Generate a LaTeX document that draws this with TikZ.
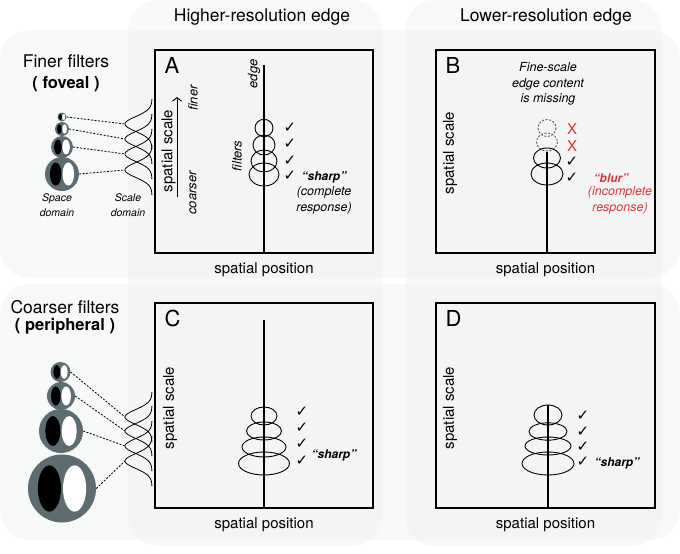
\documentclass[tikz,border=0pt]{standalone}
\usepackage{fontspec}
\setmainfont{TeX Gyre Heros}
\newfontfamily\symfont{DejaVu Sans}
\usetikzlibrary{positioning,arrows.meta}

\definecolor{bandgray}{RGB}{240,242,242}
\definecolor{ringgray}{RGB}{93,108,113}
\definecolor{blurred}{RGB}{222,52,58}

\tikzset{
    band/.style={fill=bandgray, fill opacity=0.55, rounded corners=30pt},
    panel/.style={draw, line width=1.3pt, inner sep=0pt},
    edgeline/.style={line width=1.8pt},
    filt/.style={line width=0.9pt},
    missing/.style={filt, draw=black!65, dash pattern=on 2pt off 1.6pt},
    rfield/.style={circle, fill=ringgray, inner sep=0pt},
    link/.style={line width=0.8pt, dash pattern=on 2pt off 1.5pt},
    bump/.style={line width=0.8pt},
    checkmk/.style={font=\symfont\fontsize{15}{15}\selectfont, inner sep=0pt},
    crossmk/.style={font=\fontsize{15}{15}\selectfont, text=blurred, inner sep=0pt},
    coltitle/.style={font=\fontsize{17.5}{20}\selectfont},
    rowtitle/.style={font=\fontsize{17.5}{20}\selectfont},
    axislbl/.style={font=\fontsize{15}{18}\selectfont},
    note/.style={font=\itshape\fontsize{12.5}{15.5}\selectfont, align=center},
    letter/.style={font=\fontsize{22}{22}\selectfont, inner sep=0pt},
    domlbl/.style={font=\itshape\fontsize{10.5}{15}\selectfont, align=center},
}

\begin{document}
\begin{tikzpicture}[x=1pt, y=-1pt]
    \useasboundingbox (0,0) rectangle (680,554);

    % Background bands (rows and columns)
    \fill[band] (0,30) rectangle (680,278);
    \fill[band] (0,284) rectangle (680,540);
    \fill[band] (128,0) rectangle (382,546);
    \fill[band] (405,0) rectangle (662,546);

    \node[coltitle] (hires) at (262,17) {Higher-resolution edge};
    \node[coltitle] (lores) at (546,17) {Lower-resolution edge};

    % Panels
    \node[panel, minimum width=218pt, minimum height=203pt] (A) at (264,151.5) {};
    \node[panel, minimum width=219pt, minimum height=203pt] (B) at (545.5,151.5) {};
    \node[panel, minimum width=218pt, minimum height=205pt] (C) at (264,405.5) {};
    \node[panel, minimum width=219pt, minimum height=205pt] (D) at (545.5,405.5) {};

    \foreach \p in {A,B,C,D}
    {
        \node[axislbl, below=5pt of \p] (pos\p) {spatial position};
        \node[letter, below right=8pt and 10pt of \p.north west] (lbl\p) {\p};
    }

    \node[axislbl, rotate=90] (scaleA) at (168.5,151) {spatial scale};
    \node[axislbl, rotate=90] (scaleB) at (450,153) {spatial scale};
    \node[axislbl, rotate=90] (scaleC) at (170,408) {spatial scale};
    \node[axislbl, rotate=90] (scaleD) at (450,408) {spatial scale};

    % Finer filters (foveal)
    \node[rowtitle] (finer) at (66,61) {Finer filters};
    \node[rowtitle, font=\bfseries\fontsize{16.5}{20}\selectfont] (foveal) at (66,84) {( foveal )};

    \foreach \n/\cx/\cy/\r in {f1/62/117/4.5, f2/62/129/7, f3/62/147/11, f4/62/174/17}
    {
        \node[rfield, minimum size={2*\r*1pt}] (\n) at (\cx,\cy) {};
        \fill[black] ({\cx-0.37*\r},\cy) ellipse ({0.34*\r} and {0.68*\r});
        \fill[white] ({\cx+0.37*\r},\cy) ellipse ({0.34*\r} and {0.68*\r});
    }

    \foreach \c [count=\i] in {124,139,154,170}
    {
        \coordinate (sf\i) at (125,\c);
        \draw[bump] plot[domain=-25:25, samples=41] ({152-27*exp(-(\x*\x)/110)},{\c+\x});
        \draw[link] (f\i.east) -- (sf\i);
    }

    \node[domlbl] (spacedomA) at (57,205) {Space\\domain};
    \node[domlbl] (scaledomA) at (128,205) {Scale\\domain};

    % Coarser filters (peripheral)
    \node[rowtitle] (coarser) at (65,307) {Coarser filters};
    \node[rowtitle, font=\bfseries\fontsize{16.5}{20}\selectfont] (peripheral) at (65,326) {( peripheral )};

    \foreach \n/\cx/\cy/\r in {c1/60.5/372/10, c2/61/396/14, c3/61/431/22, c4/62/488.5/34}
    {
        \node[rfield, minimum size={2*\r*1pt}] (\n) at (\cx,\cy) {};
        \fill[black] ({\cx-0.37*\r},\cy) ellipse ({0.34*\r} and {0.68*\r});
        \fill[white] ({\cx+0.37*\r},\cy) ellipse ({0.34*\r} and {0.68*\r});
    }

    \foreach \c [count=\i] in {417,431,446,461}
    {
        \coordinate (sc\i) at (125,\c);
        \draw[bump] plot[domain=-25:25, samples=41] ({152-27*exp(-(\x*\x)/110)},{\c+\x});
        \draw[link] (c\i.east) -- (sc\i);
    }

    % Panel A
    \coordinate (edgeA) at (264,65);
    \draw[edgeline] (edgeA) -- (edgeA |- A.south);
    \foreach \cy/\rx/\ry in {128/9/8.7, 145/11/10, 161/13/11, 174.5/15/11.5}
        \draw[filt] (264,\cy) ellipse ({\rx} and {\ry});
    \foreach \cy [count=\i] in {128,144,161,176}
        \node[checkmk] (chkA\i) at (290,\cy) {✓};

    \coordinate (coarseA) at (177,197);
    \coordinate (fineA) at (177,97);
    \draw[line width=1pt, -{Straight Barb[length=3.5pt, width=9pt]}] (coarseA) -- (fineA);
    \node[note, font=\itshape\fontsize{13}{15}\selectfont, rotate=90] (finerA) at (193,98) {finer};
    \node[note, font=\itshape\fontsize{13}{15}\selectfont, rotate=90] (coarserA) at (193,193) {coarser};
    \node[note, font=\itshape\fontsize{13}{15}\selectfont, rotate=90] (edgelblA) at (254,74) {edge};
    \node[note, font=\itshape\fontsize{13}{15}\selectfont, rotate=90] (filtersA) at (237,156) {filters};

    \node[note, font=\bfseries\itshape\fontsize{12}{15}\selectfont] (sharpA) at (324,177) {“sharp”};
    \node[note] (completeA) at (324,200.5) {(complete\\response)};

    % Panel B
    \node[note] (missingB) at (548,84) {Fine-scale\\edge content\\is missing};
    \coordinate (edgeB) at (547,152);
    \draw[edgeline] (edgeB) -- (edgeB |- B.south);
    \draw[missing] (547,128) ellipse (9 and 8.5);
    \draw[missing] (547,142) ellipse (10.5 and 9);
    \draw[filt] (547,158) ellipse (13.5 and 10);
    \draw[filt] (547,174) ellipse (16 and 11);
    \node[crossmk] (xB1) at (572,129) {X};
    \node[crossmk] (xB2) at (572,146) {X};
    \node[checkmk] (chkB1) at (572,162) {✓};
    \node[checkmk] (chkB2) at (572,178) {✓};

    \node[note, text=blurred, font=\bfseries\itshape\fontsize{12}{15}\selectfont] (blurB) at (611,178) {“blur”};
    \node[note, text=blurred] (incompleteB) at (620,200.5) {(incomplete\\response)};

    % Panel C
    \coordinate (edgeC) at (264,320);
    \draw[edgeline] (edgeC) -- (edgeC |- C.south);
    \foreach \cy/\rx/\ry in {416/13/9, 431/17.5/9, 447/22/10, 463.5/25.5/11.5}
        \draw[filt] (264,\cy) ellipse ({\rx} and {\ry});
    \foreach \cy [count=\i] in {412,428,444,461}
        \node[checkmk] (chkC\i) at (302,\cy) {✓};
    \node[note, font=\bfseries\itshape\fontsize{12}{15}\selectfont] (sharpC) at (334,455) {“sharp”};

    % Panel D
    \coordinate (edgeD) at (548,405);
    \draw[edgeline] (edgeD) -- (edgeD |- D.south);
    \foreach \cy/\rx/\ry in {415/14/10, 431.5/19/8.7, 446/23/9, 463.5/26/11.5}
        \draw[filt] (548,\cy) ellipse ({\rx} and {\ry});
    \foreach \cy [count=\i] in {416,432,447,462}
        \node[checkmk] (chkD\i) at (583,\cy) {✓};
    \node[note, font=\bfseries\itshape\fontsize{12}{15}\selectfont] (sharpD) at (617,463) {“sharp”};
\end{tikzpicture}
\end{document}
